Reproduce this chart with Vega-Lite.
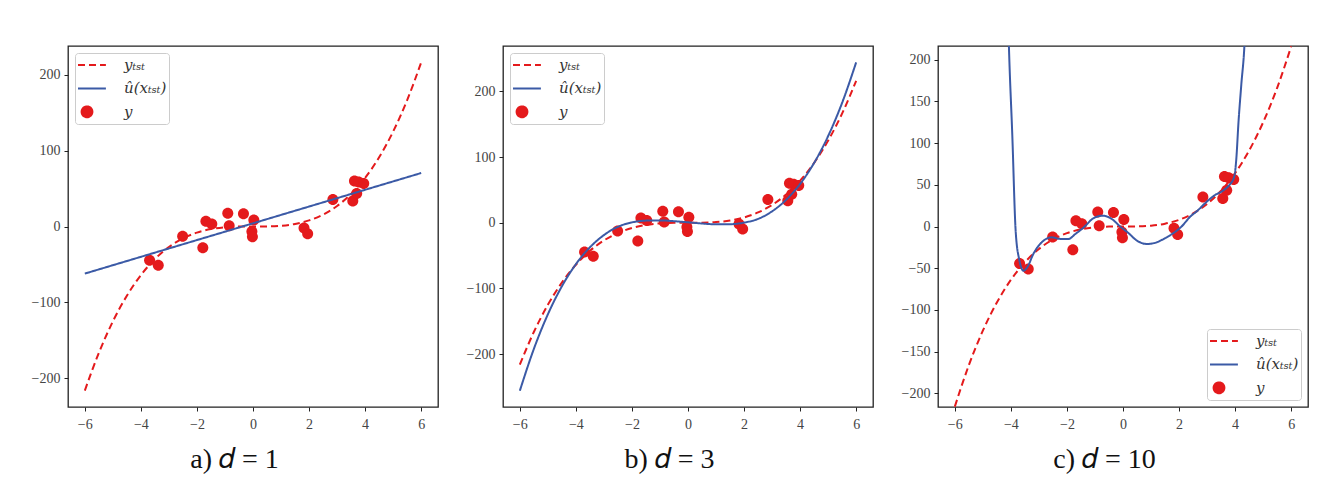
{
  "$schema": "https://vega.github.io/schema/vega-lite/v6.json",
  "background": "white",
  "padding": {"left": 30, "top": 45, "right": 10, "bottom": 5},
  "datasets": {
    "truth": [
      {"x": -6, "y": -216, "s": "ytst"}, {"x": -5.5, "y": -166.375, "s": "ytst"}, {"x": -5, "y": -125, "s": "ytst"},
      {"x": -4.5, "y": -91.125, "s": "ytst"}, {"x": -4, "y": -64, "s": "ytst"}, {"x": -3.5, "y": -42.875, "s": "ytst"},
      {"x": -3, "y": -27, "s": "ytst"}, {"x": -2.5, "y": -15.625, "s": "ytst"}, {"x": -2, "y": -8, "s": "ytst"},
      {"x": -1.5, "y": -3.375, "s": "ytst"}, {"x": -1, "y": -1, "s": "ytst"}, {"x": -0.5, "y": -0.125, "s": "ytst"},
      {"x": 0, "y": 0, "s": "ytst"}, {"x": 0.5, "y": 0.125, "s": "ytst"}, {"x": 1, "y": 1, "s": "ytst"},
      {"x": 1.5, "y": 3.375, "s": "ytst"}, {"x": 2, "y": 8, "s": "ytst"}, {"x": 2.5, "y": 15.625, "s": "ytst"},
      {"x": 3, "y": 27, "s": "ytst"}, {"x": 3.5, "y": 42.875, "s": "ytst"}, {"x": 4, "y": 64, "s": "ytst"},
      {"x": 4.5, "y": 91.125, "s": "ytst"}, {"x": 5, "y": 125, "s": "ytst"}, {"x": 5.5, "y": 166.375, "s": "ytst"},
      {"x": 6, "y": 216, "s": "ytst"}
    ],
    "points": [
      {"x": -3.69, "y": -44.5, "s": "y"}, {"x": -3.38, "y": -51, "s": "y"}, {"x": -2.51, "y": -12.7, "s": "y"},
      {"x": -1.79, "y": -28, "s": "y"}, {"x": -1.68, "y": 7, "s": "y"}, {"x": -1.47, "y": 3.3, "s": "y"},
      {"x": -0.9, "y": 17.5, "s": "y"}, {"x": -0.85, "y": 1, "s": "y"}, {"x": -0.34, "y": 16.8, "s": "y"},
      {"x": 0.03, "y": 8.5, "s": "y"}, {"x": -0.04, "y": -6.5, "s": "y"}, {"x": -0.02, "y": -13.5, "s": "y"},
      {"x": 1.82, "y": -2, "s": "y"}, {"x": 1.95, "y": -9.5, "s": "y"}, {"x": 2.85, "y": 35.5, "s": "y"},
      {"x": 3.56, "y": 33.5, "s": "y"}, {"x": 3.62, "y": 60, "s": "y"}, {"x": 3.77, "y": 58.5, "s": "y"},
      {"x": 3.7, "y": 43.5, "s": "y"}, {"x": 3.95, "y": 56.5, "s": "y"}
    ],
    "fit1": [
      {"x": -6, "y": -62, "s": "uhat"}, {"x": 6, "y": 70.4, "s": "uhat"}
    ],
    "fit3": [
      {"x": -6, "y": -255.86, "s": "uhat"}, {"x": -5.5, "y": -192.19, "s": "uhat"}, {"x": -5, "y": -139.5, "s": "uhat"},
      {"x": -4.5, "y": -96.81, "s": "uhat"}, {"x": -4, "y": -63.12, "s": "uhat"}, {"x": -3.5, "y": -37.45, "s": "uhat"},
      {"x": -3, "y": -18.8, "s": "uhat"}, {"x": -2.5, "y": -6.19, "s": "uhat"}, {"x": -2, "y": 0.5, "s": "uhat"},
      {"x": -1.5, "y": 3.2, "s": "uhat"}, {"x": -1, "y": 3.5, "s": "uhat"}, {"x": -0.5, "y": 2.4, "s": "uhat"},
      {"x": 0, "y": 0.6, "s": "uhat"}, {"x": 0.5, "y": -1.2, "s": "uhat"}, {"x": 1, "y": -2.4, "s": "uhat"},
      {"x": 1.5, "y": -2.3, "s": "uhat"}, {"x": 2, "y": 0.2, "s": "uhat"}, {"x": 2.5, "y": 5.81, "s": "uhat"},
      {"x": 3, "y": 17.38, "s": "uhat"}, {"x": 3.5, "y": 34.79, "s": "uhat"}, {"x": 4, "y": 59.04, "s": "uhat"},
      {"x": 4.5, "y": 91.11, "s": "uhat"}, {"x": 5, "y": 132.0, "s": "uhat"}, {"x": 5.5, "y": 182.69, "s": "uhat"},
      {"x": 6, "y": 244.16, "s": "uhat"}
    ],
    "fit10": [
      {"x": -4.15, "y": 320, "s": "uhat"}, {"x": -4.07, "y": 216, "s": "uhat"}, {"x": -3.95, "y": 110, "s": "uhat"},
      {"x": -3.83, "y": -5, "s": "uhat"}, {"x": -3.7, "y": -40, "s": "uhat"}, {"x": -3.55, "y": -53, "s": "uhat"},
      {"x": -3.4, "y": -48, "s": "uhat"}, {"x": -3.2, "y": -33, "s": "uhat"}, {"x": -2.9, "y": -19, "s": "uhat"},
      {"x": -2.55, "y": -13, "s": "uhat"}, {"x": -2.2, "y": -15, "s": "uhat"}, {"x": -1.95, "y": -15, "s": "uhat"},
      {"x": -1.7, "y": -9, "s": "uhat"}, {"x": -1.4, "y": -1, "s": "uhat"}, {"x": -1.05, "y": 10, "s": "uhat"},
      {"x": -0.73, "y": 13, "s": "uhat"}, {"x": -0.4, "y": 9, "s": "uhat"}, {"x": -0.1, "y": 0, "s": "uhat"},
      {"x": 0.2, "y": -8, "s": "uhat"}, {"x": 0.5, "y": -17, "s": "uhat"}, {"x": 0.87, "y": -21, "s": "uhat"},
      {"x": 1.2, "y": -19, "s": "uhat"}, {"x": 1.5, "y": -14, "s": "uhat"}, {"x": 1.75, "y": -9, "s": "uhat"},
      {"x": 2.06, "y": -1, "s": "uhat"}, {"x": 2.42, "y": 12.5, "s": "uhat"}, {"x": 2.66, "y": 19, "s": "uhat"},
      {"x": 2.9, "y": 27, "s": "uhat"}, {"x": 3.25, "y": 37, "s": "uhat"}, {"x": 3.61, "y": 44, "s": "uhat"},
      {"x": 3.8, "y": 50, "s": "uhat"}, {"x": 3.97, "y": 60, "s": "uhat"}, {"x": 4.04, "y": 80, "s": "uhat"},
      {"x": 4.12, "y": 125, "s": "uhat"}, {"x": 4.22, "y": 170, "s": "uhat"}, {"x": 4.33, "y": 216, "s": "uhat"},
      {"x": 4.42, "y": 290, "s": "uhat"}
    ]
  },
  "config": {
    "view": {"stroke": "#222", "strokeWidth": 1.3},
    "axis": {
      "grid": false, "domain": false, "tickColor": "#222", "tickSize": 4, "tickWidth": 1,
      "labelFont": "Liberation Serif", "labelFontSize": 14, "labelColor": "#444", "labelPadding": 4, "title": null
    },
    "axisX": {"labelPadding": 6},
    "legend": {
      "title": null, "labelFont": "DejaVu Serif", "labelFontStyle": "italic", "labelFontSize": 15, "labelColor": "#333",
      "strokeColor": "#cccccc", "fillColor": "white", "cornerRadius": 3, "padding": 2, "offset": 7,
      "symbolSize": 324, "symbolStrokeWidth": 2, "rowPadding": 5.4, "labelOffset": 27
    },
    "title": {"font": "Liberation Serif", "fontSize": 28, "fontWeight": "normal", "color": "#111", "orient": "bottom", "frame": "bounds", "anchor": "middle", "offset": 15}
  },
  "spacing": 65,
  "bounds": "flush",
  "resolve": {"scale": {"color": "independent", "shape": "independent", "strokeDash": "independent"}, "legend": {"color": "independent", "shape": "independent", "strokeDash": "independent"}},
  "hconcat": [
    {
      "width": 370, "height": 361,
      "title": {"text": "a) \ud835\udc51 = 1"},
      "layer": [
        {
          "data": {"name": "points"},
          "mark": {"type": "point", "filled": true, "size": 336, "opacity": 1},
          "encoding": {
            "x": {"field": "x", "type": "quantitative", "scale": {"domain": [-6.6, 6.6], "nice": false, "zero": false}, "axis": {"values": [-6, -4, -2, 0, 2, 4, 6]}},
            "y": {"field": "y", "type": "quantitative", "scale": {"domain": [-237.6, 237.6], "nice": false, "zero": false}, "axis": {"values": [-200, -100, 0, 100, 200]}},
            "color": {"field": "s", "type": "nominal", "scale": {"domain": ["ytst", "uhat", "y"], "range": ["#e41a1c", "#3b5aa6", "#e41a1c"]},
              "legend": {"orient": "top-left", "labelExpr": "datum.value === 'ytst' ? 'y\u209c\u209b\u209c' : datum.value === 'uhat' ? '\u00fb(x\u209c\u209b\u209c)' : 'y'"}},
            "shape": {"field": "s", "type": "nominal", "scale": {"domain": ["ytst", "uhat", "y"], "range": ["M-1,0H2.1", "M-1,0H2.1", "M-0.6,0A0.6,0.6 0 1,0 0.6,0A0.6,0.6 0 1,0 -0.6,0Z"]},
              "legend": {"orient": "top-left", "labelExpr": "datum.value === 'ytst' ? 'y\u209c\u209b\u209c' : datum.value === 'uhat' ? '\u00fb(x\u209c\u209b\u209c)' : 'y'"}}
          }
        },
        {
          "data": {"name": "truth"},
          "mark": {"type": "line", "strokeWidth": 2, "interpolate": "monotone", "clip": true},
          "encoding": {"x": {"field": "x", "type": "quantitative"}, "y": {"field": "y", "type": "quantitative"}, "color": {"field": "s", "type": "nominal"},
            "strokeDash": {"field": "s", "type": "nominal", "scale": {"domain": ["ytst", "uhat", "y"], "range": [[7, 4], [1, 0], [1, 0]]},
              "legend": {"orient": "top-left", "labelExpr": "datum.value === 'ytst' ? 'y\u209c\u209b\u209c' : datum.value === 'uhat' ? '\u00fb(x\u209c\u209b\u209c)' : 'y'"}}}
        },
        {
          "data": {"name": "fit1"},
          "mark": {"type": "line", "strokeWidth": 2, "clip": true},
          "encoding": {"x": {"field": "x", "type": "quantitative"}, "y": {"field": "y", "type": "quantitative"}, "color": {"field": "s", "type": "nominal"}, "strokeDash": {"field": "s", "type": "nominal"}}
        }
      ]
    },
    {
      "width": 370, "height": 361,
      "title": {"text": "b) \ud835\udc51 = 3"},
      "layer": [
        {
          "data": {"name": "points"},
          "mark": {"type": "point", "filled": true, "size": 336, "opacity": 1},
          "encoding": {
            "x": {"field": "x", "type": "quantitative", "scale": {"domain": [-6.6, 6.6], "nice": false, "zero": false}, "axis": {"values": [-6, -4, -2, 0, 2, 4, 6]}},
            "y": {"field": "y", "type": "quantitative", "scale": {"domain": [-280.5, 269], "nice": false, "zero": false}, "axis": {"values": [-200, -100, 0, 100, 200]}},
            "color": {"field": "s", "type": "nominal", "scale": {"domain": ["ytst", "uhat", "y"], "range": ["#e41a1c", "#3b5aa6", "#e41a1c"]},
              "legend": {"orient": "top-left", "labelExpr": "datum.value === 'ytst' ? 'y\u209c\u209b\u209c' : datum.value === 'uhat' ? '\u00fb(x\u209c\u209b\u209c)' : 'y'"}},
            "shape": {"field": "s", "type": "nominal", "scale": {"domain": ["ytst", "uhat", "y"], "range": ["M-1,0H2.1", "M-1,0H2.1", "M-0.6,0A0.6,0.6 0 1,0 0.6,0A0.6,0.6 0 1,0 -0.6,0Z"]},
              "legend": {"orient": "top-left", "labelExpr": "datum.value === 'ytst' ? 'y\u209c\u209b\u209c' : datum.value === 'uhat' ? '\u00fb(x\u209c\u209b\u209c)' : 'y'"}}
          }
        },
        {
          "data": {"name": "truth"},
          "mark": {"type": "line", "strokeWidth": 2, "interpolate": "monotone", "clip": true},
          "encoding": {"x": {"field": "x", "type": "quantitative"}, "y": {"field": "y", "type": "quantitative"}, "color": {"field": "s", "type": "nominal"},
            "strokeDash": {"field": "s", "type": "nominal", "scale": {"domain": ["ytst", "uhat", "y"], "range": [[7, 4], [1, 0], [1, 0]]},
              "legend": {"orient": "top-left", "labelExpr": "datum.value === 'ytst' ? 'y\u209c\u209b\u209c' : datum.value === 'uhat' ? '\u00fb(x\u209c\u209b\u209c)' : 'y'"}}}
        },
        {
          "data": {"name": "fit3"},
          "mark": {"type": "line", "strokeWidth": 2, "interpolate": "monotone", "clip": true},
          "encoding": {"x": {"field": "x", "type": "quantitative"}, "y": {"field": "y", "type": "quantitative"}, "color": {"field": "s", "type": "nominal"}, "strokeDash": {"field": "s", "type": "nominal"}}
        }
      ]
    },
    {
      "width": 370, "height": 361,
      "title": {"text": "c) \ud835\udc51 = 10"},
      "layer": [
        {
          "data": {"name": "points"},
          "mark": {"type": "point", "filled": true, "size": 336, "opacity": 1},
          "encoding": {
            "x": {"field": "x", "type": "quantitative", "scale": {"domain": [-6.6, 6.6], "nice": false, "zero": false}, "axis": {"values": [-6, -4, -2, 0, 2, 4, 6]}},
            "y": {"field": "y", "type": "quantitative", "scale": {"domain": [-216.5, 216.5], "nice": false, "zero": false}, "axis": {"values": [-200, -150, -100, -50, 0, 50, 100, 150, 200]}},
            "color": {"field": "s", "type": "nominal", "scale": {"domain": ["ytst", "uhat", "y"], "range": ["#e41a1c", "#3b5aa6", "#e41a1c"]},
              "legend": {"orient": "bottom-right", "labelExpr": "datum.value === 'ytst' ? 'y\u209c\u209b\u209c' : datum.value === 'uhat' ? '\u00fb(x\u209c\u209b\u209c)' : 'y'"}},
            "shape": {"field": "s", "type": "nominal", "scale": {"domain": ["ytst", "uhat", "y"], "range": ["M-1,0H2.1", "M-1,0H2.1", "M-0.6,0A0.6,0.6 0 1,0 0.6,0A0.6,0.6 0 1,0 -0.6,0Z"]},
              "legend": {"orient": "bottom-right", "labelExpr": "datum.value === 'ytst' ? 'y\u209c\u209b\u209c' : datum.value === 'uhat' ? '\u00fb(x\u209c\u209b\u209c)' : 'y'"}}
          }
        },
        {
          "data": {"name": "truth"},
          "mark": {"type": "line", "strokeWidth": 2, "interpolate": "monotone", "clip": true},
          "encoding": {"x": {"field": "x", "type": "quantitative"}, "y": {"field": "y", "type": "quantitative"}, "color": {"field": "s", "type": "nominal"},
            "strokeDash": {"field": "s", "type": "nominal", "scale": {"domain": ["ytst", "uhat", "y"], "range": [[7, 4], [1, 0], [1, 0]]},
              "legend": {"orient": "bottom-right", "labelExpr": "datum.value === 'ytst' ? 'y\u209c\u209b\u209c' : datum.value === 'uhat' ? '\u00fb(x\u209c\u209b\u209c)' : 'y'"}}}
        },
        {
          "data": {"name": "fit10"},
          "mark": {"type": "line", "strokeWidth": 2, "interpolate": "monotone", "clip": true},
          "encoding": {"x": {"field": "x", "type": "quantitative"}, "y": {"field": "y", "type": "quantitative"}, "color": {"field": "s", "type": "nominal"}, "strokeDash": {"field": "s", "type": "nominal"}}
        }
      ]
    }
  ]
}
